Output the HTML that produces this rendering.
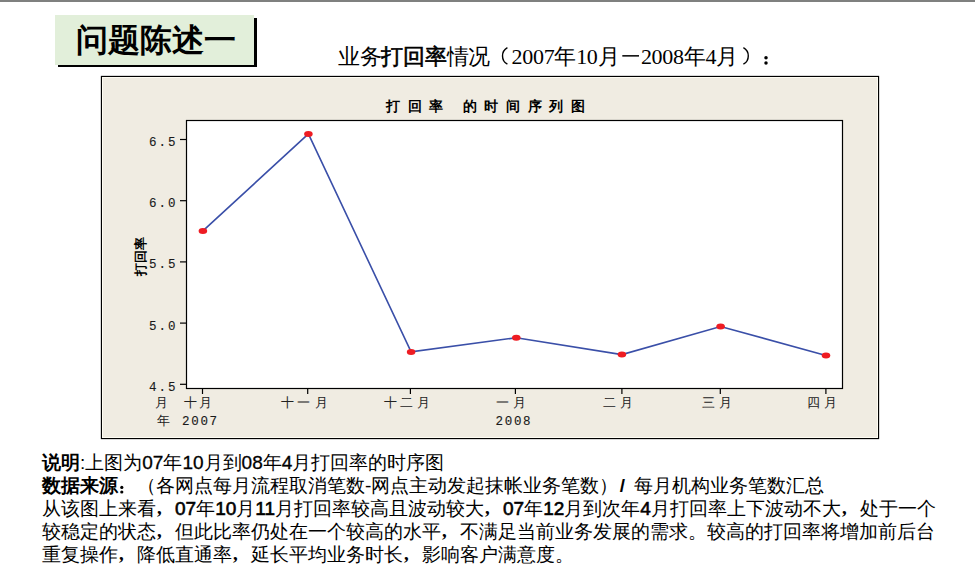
<!DOCTYPE html>
<html>
<head>
<meta charset="utf-8">
<style>
html,body{margin:0;padding:0;background:#fff;}
body{width:975px;height:580px;position:relative;overflow:hidden;font-family:"Liberation Sans",sans-serif;color:#000;}
.topbar{position:absolute;left:0;top:0;width:975px;height:2px;background:#7f807f;}
.tshadow{position:absolute;left:58px;top:18px;width:199px;height:49px;background:#000;}
.tbox{position:absolute;left:55px;top:15px;width:199px;height:50px;background:#e2efda;}
.ttext{position:absolute;left:75.5px;top:20.5px;font-size:32px;line-height:38px;font-weight:bold;white-space:nowrap;}
.sub{position:absolute;left:338px;top:44px;font-size:22px;letter-spacing:-0.3px;line-height:26px;white-space:nowrap;}
.sub b{font-weight:normal;-webkit-text-stroke:0.6px #000;}
.dg{font-family:"Liberation Serif",serif;}
.sp{display:inline-block;width:21.7px;height:1px;}
.body{position:absolute;left:42px;white-space:nowrap;font-size:19px;line-height:23px;}
svg{position:absolute;left:0;top:0;}
.cm{display:inline-block;width:19px;padding-left:1px;box-sizing:border-box;font-family:"Liberation Serif",serif;font-weight:bold;position:relative;top:-1px;}
.dn{-webkit-text-stroke:0.3px #000;}
.dm{-webkit-text-stroke:0.6px #000;}
.cl{display:inline-block;width:19px;padding-left:1.5px;box-sizing:border-box;}
.sl{display:inline-block;margin:0 9px 0 1.5px;}
</style>
</head>
<body>
<div class="topbar"></div>
<div class="tshadow"></div>
<div class="tbox"></div>
<div class="ttext">问题陈述一</div>
<div class="sub">业务<b>打回率</b>情况<span class="sp"></span><span class="dg">2007</span>年<span class="dg">10</span>月<span class="sp"></span><span class="dg">2008</span>年<span class="dg">4</span>月<span class="sp"></span><span class="sp"></span></div>

<svg width="975" height="580" viewBox="0 0 975 580">
  <rect x="101.5" y="76.5" width="777" height="362" fill="#f0ece2" stroke="#000" stroke-width="1.3"/>
  <rect x="102.5" y="77.5" width="775" height="360" fill="none" stroke="#fffdf3" stroke-width="1"/>
  <rect x="186.5" y="120.5" width="656" height="268" fill="#fff" stroke="#000" stroke-width="1.2"/>
  <g stroke="#000" stroke-width="1.2">
    <line x1="180" y1="139.5" x2="186.5" y2="139.5"/>
    <line x1="180" y1="200.7" x2="186.5" y2="200.7"/>
    <line x1="180" y1="261.9" x2="186.5" y2="261.9"/>
    <line x1="180" y1="323.1" x2="186.5" y2="323.1"/>
    <line x1="180" y1="384.3" x2="186.5" y2="384.3"/>
    <line x1="202.5" y1="388.5" x2="202.5" y2="394"/>
    <line x1="307.7" y1="388.5" x2="307.7" y2="394"/>
    <line x1="410.4" y1="388.5" x2="410.4" y2="394"/>
    <line x1="515.4" y1="388.5" x2="515.4" y2="394"/>
    <line x1="621.9" y1="388.5" x2="621.9" y2="394"/>
    <line x1="720.3" y1="388.5" x2="720.3" y2="394"/>
    <line x1="825.9" y1="388.5" x2="825.9" y2="394"/>
  </g>
  <polyline fill="none" stroke="#3a4fa8" stroke-width="1.6" points="202.9,230.9 308.4,133.9 411.1,351.9 516.3,337.7 621.9,354.6 720.6,326.5 826,355.5"/>
  <g fill="#ee1c23">
    <ellipse cx="202.9" cy="230.9" rx="4.3" ry="3"/>
    <ellipse cx="308.4" cy="133.9" rx="4.3" ry="3"/>
    <ellipse cx="411.1" cy="351.9" rx="4.3" ry="3"/>
    <ellipse cx="516.3" cy="337.7" rx="4.3" ry="3"/>
    <ellipse cx="621.9" cy="354.6" rx="4.3" ry="3"/>
    <ellipse cx="720.6" cy="326.5" rx="4.3" ry="3"/>
    <ellipse cx="826" cy="355.5" rx="4.3" ry="3"/>
  </g>
  <g font-family="Liberation Mono, monospace" font-size="12.5" fill="#1a1a1a" stroke="#1a1a1a" stroke-width="0.12" letter-spacing="2">
    <text x="149" y="145.9">6.5</text>
    <text x="149" y="207.1">6.0</text>
    <text x="149" y="268.3">5.5</text>
    <text x="149" y="329.5">5.0</text>
    <text x="149" y="390.7">4.5</text>
  </g>
  <text x="0" y="0" transform="translate(144.5,256) rotate(-90)" font-family="Liberation Sans, sans-serif" font-weight="bold" font-size="12.5" text-anchor="middle" fill="#000">打回率</text>
  <text x="386" y="110.8" font-family="Liberation Sans, sans-serif" font-weight="bold" font-size="14" letter-spacing="7.7" fill="#000">打回率 的时间序列图</text>
  <g font-family="Liberation Sans, sans-serif" font-size="13" fill="#222">
    <text x="155.2" y="407.3">月</text>
    <text x="184.4" y="407.3">十</text>
    <text x="199.3" y="407.3">月</text>
    <text x="281.3" y="407.3">十</text>
    <text x="296.8" y="407.3">一</text>
    <text x="314.7" y="407.3">月</text>
    <text x="384.2" y="407.3">十</text>
    <text x="399.9" y="407.3">二</text>
    <text x="417.0" y="407.3">月</text>
    <text x="495.6" y="407.3">一</text>
    <text x="512.9" y="407.3">月</text>
    <text x="603.0" y="407.3">二</text>
    <text x="620.0" y="407.3">月</text>
    <text x="702.3" y="407.3">三</text>
    <text x="718.7" y="407.3">月</text>
    <text x="806.7" y="407.3">四</text>
    <text x="824.0" y="407.3">月</text>
    <text x="156.5" y="425">年</text>
  </g>
  <g font-family="Liberation Mono, monospace" font-size="12.5" fill="#1a1a1a" stroke="#1a1a1a" stroke-width="0.12" letter-spacing="1.7">
    <text x="182" y="424.5">2007</text>
    <text x="495.5" y="424.5">2008</text>
  </g>
  <g fill="none" stroke="#000" stroke-width="1.4">
    <path d="M507.4 47.6 A9.5 9.5 0 0 0 507.4 64.2"/>
    <path d="M743.4 47.6 A9.5 9.5 0 0 1 743.4 64.2"/>
  </g>
  <rect x="622.3" y="55.1" width="16.7" height="1.5" fill="#000"/>
  <circle cx="766" cy="57.7" r="1.75" fill="#000"/>
  <circle cx="766" cy="62.9" r="1.75" fill="#000"/>
  <circle cx="121.8" cy="487.4" r="1.6" fill="#000"/>
  <circle cx="121.8" cy="492" r="1.6" fill="#000"/>
</svg>

<div class="body" style="top:451px"><b>说明</b>:上图为<span class="dn">07</span>年<span class="dn">10</span>月到<span class="dn">08</span>年<span class="dn">4</span>月打回率的时序图</div>
<div class="body" style="top:474px"><b>数据来源<span class="cl"></span></b>（各网点每月流程取消笔数-网点主动发起抹帐业务笔数）<b class="sl">/</b>每月机构业务笔数汇总</div>
<div class="body" style="top:497px">从该图上来看<span class="cm">,</span><span class="dm">07</span>年<span class="dm">10</span>月<span class="dm">11</span>月打回率较高且波动较大<span class="cm">,</span><span class="dm">07</span>年<span class="dm">12</span>月到次年<span class="dm">4</span>月打回率上下波动不大<span class="cm">,</span>处于一个</div>
<div class="body" style="top:520px">较稳定的状态<span class="cm">,</span>但此比率仍处在一个较高的水平<span class="cm">,</span>不满足当前业务发展的需求。较高的打回率将增加前后台</div>
<div class="body" style="top:543px">重复操作<span class="cm">,</span>降低直通率<span class="cm">,</span>延长平均业务时长<span class="cm">,</span>影响客户满意度。</div>
</body>
</html>
